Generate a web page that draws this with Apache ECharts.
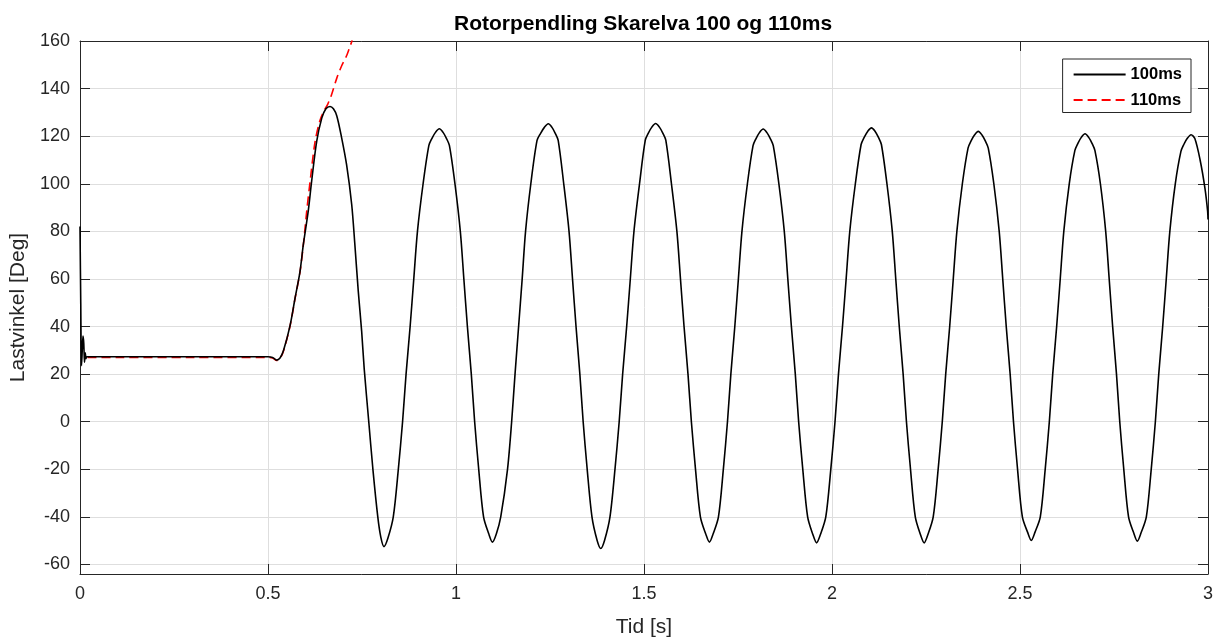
<!DOCTYPE html>
<html>
<head>
<meta charset="utf-8">
<script src="https://cdn.jsdelivr.net/npm/echarts@6/dist/echarts.min.js"></script>
<style>
  html, body { margin: 0; padding: 0; background: #fff; }
  #chart { width: 1218px; height: 637px; }
</style>
</head>
<body>
<div id="chart"></div>
<script>
const titleText = 'Rotorpendling Skarelva 100 og 110ms';
const xName = 'Tid [s]';
const yName = 'Lastvinkel [Deg]';
const seriesNames = ['100ms', '110ms'];
const yTickValues = [-60, -40, -20, 0, 20, 40, 60, 80, 100, 120, 140, 160];

// 100ms case: [time s, load angle deg]
const curve100 = [
  [0,82],[0.002,50],[0.004,23.5],[0.006,30],[0.008,36],[0.010,33],[0.012,25],[0.014,29],[0.016,26.5],[0.018,27.3],
  [0.1,27.3],[0.3,27.3],[0.5,27.3],[0.512,27],[0.523,25.9],[0.532,26.8],[0.541,29.8],[0.5585,40.3],[0.572,52],[0.585,63],
  [0.594,74.5],[0.607,88.5],[0.616,101],[0.6295,117.8],[0.643,127.6],[0.654,131.5],[0.665,132.5],[0.674,131.5],[0.683,128.5],
  [0.696,119.2],[0.709,108],[0.7226,91.3],[0.731,74.5],[0.740,55],[0.749,38.2],[0.756,22],[0.768,0],[0.779,-20],[0.792,-40],
  [0.800,-48.5],[0.8085,-52.5],
  [0.8188,-49],[0.8332,-40],[0.8466,-20],[0.8579,0],[0.8672,20],[0.878,40],[0.8877,60],[0.8975,80],[0.9125,100],[0.9279,116.1],[0.9361,119.1],[0.9454,121.6],[0.9557,123.1],
  [0.9656,121.6],[0.9745,119.1],[0.9824,116.1],[0.9972,100],[1.0115,80],[1.0209,60],[1.0303,40],[1.0407,20],[1.0496,0],[1.0604,-20],[1.0733,-40],[1.0871,-47.1],[1.097,-50.6],
  [1.1074,-47.1],[1.119,-40],[1.137,-20],[1.148,0],[1.157,20],[1.1665,40],[1.176,60],[1.185,80],[1.199,100],[1.2155,118.2],[1.225,121.2],[1.235,123.7],[1.2455,125.2],
  [1.2553,123.7],[1.264,121.2],[1.2718,118.2],[1.2865,100],[1.3006,80],[1.3099,60],[1.3192,40],[1.3294,20],[1.3382,0],[1.3489,-20],[1.3616,-40],[1.3752,-49.8],[1.385,-53.3],
  [1.3952,-49.8],[1.4095,-40],[1.4228,-20],[1.434,0],[1.4432,20],[1.4539,40],[1.4636,60],[1.4733,80],[1.4881,100],[1.5034,118.3],[1.5116,121.3],[1.5208,123.8],[1.531,125.3],
  [1.541,123.8],[1.550,121.3],[1.558,118.3],[1.573,100],[1.5875,80],[1.597,60],[1.6065,40],[1.617,20],[1.626,0],[1.637,-20],[1.650,-40],[1.664,-47.1],[1.674,-50.6],
  [1.684,-47.1],[1.698,-40],[1.711,-20],[1.722,0],[1.731,20],[1.7415,40],[1.751,60],[1.7605,80],[1.775,100],[1.790,116],[1.798,119],[1.807,121.5],[1.817,123],
  [1.8269,121.5],[1.8359,119],[1.8438,116],[1.8587,100],[1.8731,80],[1.8825,60],[1.892,40],[1.9024,20],[1.9113,0],[1.9223,-20],[1.9352,-40],[1.9491,-47.4],[1.959,-50.9],
  [1.9692,-47.4],[1.9835,-40],[1.9968,-20],[2.008,0],[2.0172,20],[2.0279,40],[2.0376,60],[2.0473,80],[2.0621,100],[2.0774,116.5],[2.0856,119.5],[2.0948,122],[2.105,123.5],
  [2.1148,122],[2.1236,119.5],[2.1314,116.5],[2.1461,100],[2.1603,80],[2.1696,60],[2.1789,40],[2.1892,20],[2.198,0],[2.2088,-20],[2.2215,-40],[2.2352,-47.4],[2.245,-50.9],
  [2.2551,-47.4],[2.2692,-40],[2.2823,-20],[2.2933,0],[2.3024,20],[2.313,40],[2.3225,60],[2.3321,80],[2.3467,100],[2.3618,115],[2.3699,118],[2.3789,120.5],[2.389,122],
  [2.3989,120.5],[2.4077,118],[2.4156,115],[2.4304,100],[2.4447,80],[2.4541,60],[2.4634,40],[2.4738,20],[2.4827,0],[2.4935,-20],[2.5063,-40],[2.5201,-46.4],[2.530,-49.9],
  [2.540,-46.4],[2.554,-40],[2.567,-20],[2.578,0],[2.587,20],[2.5975,40],[2.607,60],[2.6165,80],[2.631,100],[2.646,114],[2.654,117],[2.663,119.5],[2.673,121],
  [2.6827,119.5],[2.6915,117],[2.6992,114],[2.7138,100],[2.7279,80],[2.7372,60],[2.7464,40],[2.7566,20],[2.7653,0],[2.776,-20],[2.7887,-40],[2.8023,-46.7],[2.812,-50.2],
  [2.822,-46.7],[2.836,-40],[2.849,-20],[2.860,0],[2.869,20],[2.8795,40],[2.889,60],[2.8985,80],[2.913,100],[2.928,113.6],[2.936,116.6],[2.945,119.1],[2.955,120.6],
  [2.965,119],[2.979,110],[2.992,98],[2.999,88.5],[3.0,85]
];

// 110ms case (loses synchronism): [time s, load angle deg]
const curve110 = [
  [0.02,27.0],[0.1,27.0],[0.3,27.0],[0.5,27.0],[0.512,26.8],[0.523,25.7],[0.532,26.6],[0.541,29.6],[0.5585,40.1],[0.572,51.8],
  [0.585,62.8],[0.594,74.3],[0.603,88.5],[0.612,101],[0.625,117.5],[0.638,126.5],[0.650,131],[0.659,133.5],[0.669,137.4],
  [0.683,144.4],[0.696,149.6],[0.709,153.8],[0.716,156.8],[0.724,160.3]
];

const FONT = '"Liberation Sans", Arial, Helvetica, sans-serif';
const AX = '#262626';

const chart = echarts.init(document.getElementById('chart'), null, { renderer: 'canvas' });

const baseX = {
  type: 'value', min: 0, max: 3, interval: 0.5,
  axisLine: { show: true, onZero: false, lineStyle: { color: AX, width: 1 } },
  axisTick: { show: true, inside: true, length: 10, lineStyle: { color: AX, width: 1 } }
};
const baseY = {
  type: 'value', min: -64, max: 160,
  axisLine: { show: true, onZero: false, lineStyle: { color: AX, width: 1 } },
  axisTick: { show: true, inside: true, length: 10, customValues: yTickValues, lineStyle: { color: AX, width: 1 } }
};

chart.setOption({
  animation: false,
  backgroundColor: '#ffffff',
  title: {
    text: titleText,
    left: 454, top: 14,
    padding: 0,
    textStyle: { fontFamily: FONT, fontSize: 21, fontWeight: 'bold', color: '#000' }
  },
  legend: {
    data: seriesNames,
    orient: 'vertical',
    right: 27, top: 59,
    padding: [7, 9, 4, 10],
    itemWidth: 52, itemHeight: 14, itemGap: 8.5,
    itemStyle: { opacity: 0 },
    borderColor: AX, borderWidth: 1, backgroundColor: '#fff',
    textStyle: { fontFamily: FONT, fontSize: 16.5, fontWeight: 'bold', color: '#000' }
  },
  grid: { left: 80, right: 10, top: 41, bottom: 63, outerBoundsMode: 'none' },
  xAxis: [
    Object.assign({}, baseX, {
      position: 'bottom',
      name: xName, nameLocation: 'middle', nameGap: 43,
      nameTextStyle: { fontFamily: FONT, fontSize: 21, color: AX },
      axisLabel: { fontFamily: FONT, fontSize: 18, color: AX, margin: 11 },
      splitLine: { show: true, lineStyle: { color: '#dedede', width: 1 } }
    }),
    Object.assign({}, baseX, {
      position: 'top',
      axisLabel: { show: false },
      splitLine: { show: false }
    })
  ],
  yAxis: [
    Object.assign({}, baseY, {
      position: 'left',
      name: yName, nameLocation: 'middle', nameGap: 48,
      nameTextStyle: { fontFamily: FONT, fontSize: 21, color: AX },
      axisLabel: { fontFamily: FONT, fontSize: 18, color: AX, margin: 10, customValues: yTickValues },
      splitLine: { show: true, lineStyle: { color: '#dedede', width: 1 } }
    }),
    Object.assign({}, baseY, {
      position: 'right',
      axisLabel: { show: false },
      splitLine: { show: false }
    })
  ],
  series: [
    {
      name: seriesNames[1], type: 'line', data: curve110,
      xAxisIndex: 0, yAxisIndex: 0,
      symbol: 'none', showSymbol: false, smooth: 0.3, clip: true, z: 2,
      color: '#ff0000',
      lineStyle: { color: '#ff0000', width: 1.6, type: [9, 5] }
    },
    {
      name: seriesNames[0], type: 'line', data: curve100,
      xAxisIndex: 0, yAxisIndex: 0,
      symbol: 'none', showSymbol: false, smooth: 0.3, clip: true, z: 3,
      color: '#000000',
      lineStyle: { color: '#000000', width: 1.6 }
    }
  ]
});
</script>
</body>
</html>
